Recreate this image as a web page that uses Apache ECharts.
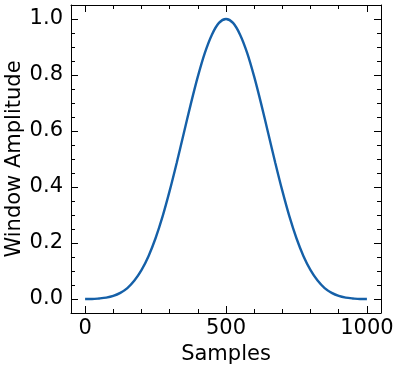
<!DOCTYPE html>
<html>
<head>
<meta charset="utf-8">
<script src="https://cdn.jsdelivr.net/npm/echarts@6/dist/echarts.min.js"></script>
<style>html,body{margin:0;padding:0;background:#fff}#c{width:400px;height:368px}</style>
</head>
<body>
<div id="c"></div>
<script>
const samples = [0,25,50,75,100,125,150,175,200,225,250,275,300,325,350,375,400,425,450,475,500,
  525,550,575,600,625,650,675,700,725,750,775,800,825,850,875,900,925,950,975,1000];
const amplitude = [0.000,0.000,0.002,0.005,0.011,0.022,0.039,0.066,0.103,0.153,0.217,0.295,0.386,0.486,0.591,0.696,0.794,0.879,0.944,0.986,1.000,
  0.986,0.944,0.879,0.794,0.696,0.591,0.486,0.386,0.295,0.217,0.153,0.103,0.066,0.039,0.022,0.011,0.005,0.002,0.000,0.000];
const xMajorTicks = [0, 500, 1000];
const xMinorTicks = [0,100,200,300,400,500,600,700,800,900,1000];
const yMajorTicks = [0, 0.2, 0.4, 0.6, 0.8, 1.0];
const yMinorTicks = [0,0.05,0.1,0.15,0.2,0.25,0.3,0.35,0.4,0.45,0.5,0.55,0.6,0.65,0.7,0.75,0.8,0.85,0.9,0.95,1.0];

const FONT = 'DejaVu Sans';
const FS = 21;
const black = '#000';
function xAx(pos, ticks, len, labels, line) {
  return {
    type: 'value', position: pos, min: -50, max: 1050,
    axisLine: {show: line, onZero: false, lineStyle: {color: black, width: 1}},
    axisTick: {show: true, inside: true, length: len, customValues: ticks, lineStyle: {color: black, width: 1}},
    axisLabel: labels ? {show: true, customValues: xMajorTicks, color: black, fontFamily: FONT, fontSize: FS, margin: 5,
      formatter: v => String(v)} : {show: false},
    splitLine: {show: false},
    name: labels ? 'Samples' : '', nameLocation: 'middle', nameGap: 31, nameMoveOverlap: false,
    nameTextStyle: {color: black, fontFamily: FONT, fontSize: FS}
  };
}
function yAx(pos, ticks, len, labels, line) {
  return {
    type: 'value', position: pos, min: -0.05, max: 1.05,
    axisLine: {show: line, onZero: false, lineStyle: {color: black, width: 1}},
    axisTick: {show: true, inside: true, length: len, customValues: ticks, lineStyle: {color: black, width: 1}},
    axisLabel: labels ? {show: true, customValues: yMajorTicks, color: black, fontFamily: FONT, fontSize: FS, margin: 8,
      formatter: v => v.toFixed(1)} : {show: false},
    splitLine: {show: false},
    name: labels ? 'Window Amplitude' : '', nameLocation: 'middle', nameGap: 46, nameMoveOverlap: false,
    nameTextStyle: {color: black, fontFamily: FONT, fontSize: FS}
  };
}
const chart = echarts.init(document.getElementById('c'), null, {renderer: 'canvas'});
chart.setOption({
  animation: false,
  grid: {left: 71, right: 19, top: 5, bottom: 55, containLabel: false, outerBoundsMode: 'none'},
  xAxis: [
    xAx('bottom', xMajorTicks, 7, true, true),
    xAx('bottom', xMinorTicks, 4, false, false),
    xAx('top', xMajorTicks, 7, false, true),
    xAx('top', xMinorTicks, 4, false, false)
  ],
  yAxis: [
    yAx('left', yMajorTicks, 7, true, true),
    yAx('left', yMinorTicks, 4, false, false),
    yAx('right', yMajorTicks, 7, false, true),
    yAx('right', yMinorTicks, 4, false, false)
  ],
  series: [{
    type: 'line', xAxisIndex: 0, yAxisIndex: 0,
    data: samples.map((s, i) => [s, amplitude[i]]),
    showSymbol: false, smooth: 0.3,
    lineStyle: {color: '#1560a8', width: 2.4}
  }]
});
</script>
</body>
</html>
